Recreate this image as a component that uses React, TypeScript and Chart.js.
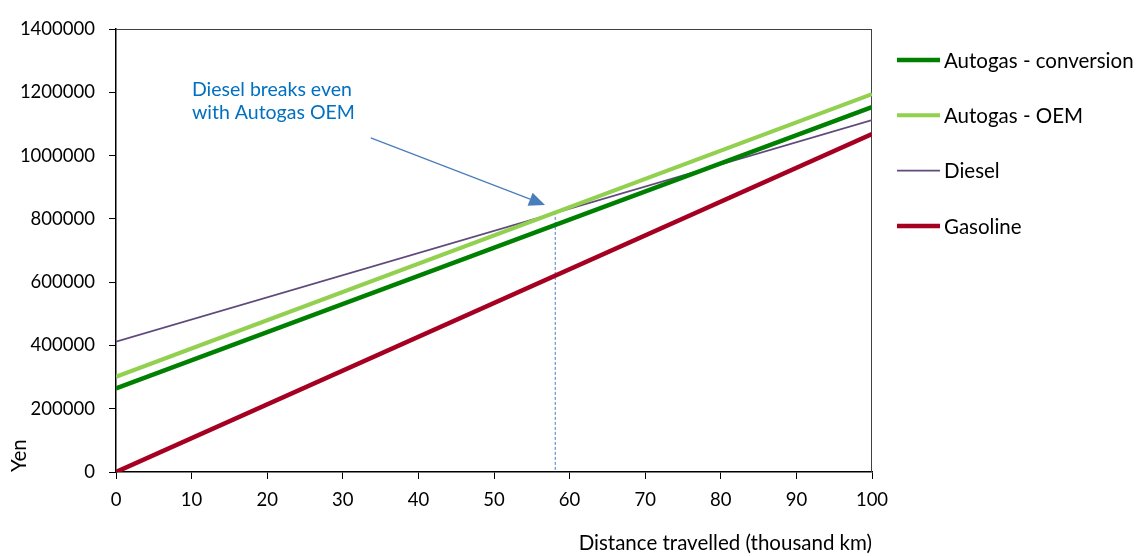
import React, { useEffect, useRef } from "react";
import { Chart, registerables } from "chart.js";

Chart.register(...registerables);

// ---- data ----
const distance = [0, 100]; // thousand km
const autogasConversion = [264000, 1153000];
const autogasOEM = [301000, 1194000];
const diesel = [412000, 1112000];
const gasoline = [0, 1068000];

const seriesNames = ["Autogas - conversion", "Autogas - OEM", "Diesel", "Gasoline"];
const seriesColors = ["#008000", "#92D050", "#604A7B", "#A50021"];
const seriesWidths = [4.5, 4, 1.8, 4.5];

const yTicks = [0, 200000, 400000, 600000, 800000, 1000000, 1200000, 1400000];
const xTicks = [0, 10, 20, 30, 40, 50, 60, 70, 80, 90, 100];

// annotation (data units)
const noteLines = ["Diesel breaks even", "with Autogas OEM"];
const notePos = [{ x: 10.05, y: 1209000 }, { x: 10.05, y: 1134000 }];
const arrowFrom = { x: 33.7, y: 1056000 };
const arrowTo = { x: 56.75, y: 844000 };
const breakEven = { x: 58.1, y: 822000 };

const FONT = "Lato, 'Open Sans', sans-serif";
const FS_TICK = 18.5;
const FS_TEXT = 20.5;
const FS_NOTE = 19.5;

export default function App() {
  const ref = useRef<HTMLCanvasElement>(null);

  useEffect(() => {
    document.body.style.margin = "0";
    const canvas = ref.current!;
    const seriesData = [autogasConversion, autogasOEM, diesel, gasoline];

    const frame = {
      id: "frame",
      beforeDatasetsDraw(chart: any) {
        const { ctx, chartArea: a } = chart;
        ctx.save();
        ctx.strokeStyle = "#404040";
        ctx.lineWidth = 1;
        ctx.beginPath();
        ctx.moveTo(a.left, a.top + 0.5);
        ctx.lineTo(a.right, a.top + 0.5);
        ctx.moveTo(a.right - 0.5, a.top);
        ctx.lineTo(a.right - 0.5, a.bottom);
        ctx.stroke();
        // break-even dashed line
        const xs = chart.scales.x, ys = chart.scales.y;
        const bx = xs.getPixelForValue(breakEven.x);
        ctx.strokeStyle = "#4A7EBB";
        ctx.setLineDash([3, 2]);
        ctx.beginPath();
        ctx.moveTo(bx, ys.getPixelForValue(breakEven.y));
        ctx.lineTo(bx, ys.getPixelForValue(0));
        ctx.stroke();
        ctx.restore();
      },
    };

    const overlay = {
      id: "overlay",
      afterDraw(chart: any) {
        const { ctx } = chart;
        const xs = chart.scales.x, ys = chart.scales.y;
        ctx.save();
        // note text
        ctx.font = `${FS_NOTE}px ${FONT}`;
        ctx.fillStyle = "#0070C0";
        ctx.textAlign = "left";
        ctx.textBaseline = "middle";
        noteLines.forEach((t, i) => {
          ctx.fillText(t, xs.getPixelForValue(notePos[i].x), ys.getPixelForValue(notePos[i].y));
        });
        // arrow
        const x1 = xs.getPixelForValue(arrowFrom.x), y1 = ys.getPixelForValue(arrowFrom.y);
        const x2 = xs.getPixelForValue(arrowTo.x), y2 = ys.getPixelForValue(arrowTo.y);
        const ang = Math.atan2(y2 - y1, x2 - x1);
        const hl = 16, hw = 7;
        const bxp = x2 - hl * Math.cos(ang), byp = y2 - hl * Math.sin(ang);
        ctx.strokeStyle = "#4A7EBB";
        ctx.fillStyle = "#4A7EBB";
        ctx.lineWidth = 1.3;
        ctx.beginPath();
        ctx.moveTo(x1, y1);
        ctx.lineTo(bxp, byp);
        ctx.stroke();
        ctx.beginPath();
        ctx.moveTo(x2, y2);
        ctx.lineTo(bxp + hw * Math.sin(ang), byp - hw * Math.cos(ang));
        ctx.lineTo(bxp - hw * Math.sin(ang), byp + hw * Math.cos(ang));
        ctx.closePath();
        ctx.fill();
        // legend
        const lx0 = 897, lx1 = 940, tx = 944, ly0 = 60, dy = 55.3;
        chart.data.datasets.forEach((ds: any, i: number) => {
          const y = ly0 + i * dy;
          ctx.strokeStyle = ds.borderColor;
          ctx.lineWidth = ds.borderWidth;
          ctx.beginPath();
          ctx.moveTo(lx0, y);
          ctx.lineTo(lx1, y);
          ctx.stroke();
          ctx.fillStyle = "#000";
          ctx.font = `${FS_TEXT}px ${FONT}`;
          ctx.textAlign = "left";
          ctx.textBaseline = "middle";
          ctx.fillText(ds.label, tx, y + 1);
        });
        ctx.restore();
      },
    };

    const chart = new Chart(canvas, {
      type: "line",
      data: {
        datasets: seriesNames.map((name, i) => ({
          label: name,
          data: distance.map((d, j) => ({ x: d, y: seriesData[i][j] })),
          borderColor: seriesColors[i],
          backgroundColor: seriesColors[i],
          borderWidth: seriesWidths[i],
          pointRadius: 0,
          tension: 0,
          fill: false,
        })),
      },
      options: {
        responsive: false,
        animation: false,
        devicePixelRatio: 1,
        layout: { padding: { left: 0, right: 267, top: 29, bottom: 0 } },
        plugins: { legend: { display: false }, tooltip: { enabled: false } },
        scales: {
          x: {
            type: "linear",
            min: 0,
            max: 100,
            afterFit(s: any) { s.height = 84; },
            afterBuildTicks(s: any) { s.ticks = xTicks.map((v) => ({ value: v })); },
            grid: { drawOnChartArea: false, drawTicks: true, tickLength: 7, color: "#000", tickColor: "#000" },
            border: { display: true, color: "#000", width: 1.5 },
            ticks: { color: "#000", font: { family: FONT, size: FS_TICK }, padding: 10, maxRotation: 0 },
            title: {
              display: true,
              text: "Distance travelled (thousand km)",
              align: "end",
              color: "#000",
              font: { family: FONT, size: FS_TEXT },
              padding: { top: 0, bottom: 0 },
            },
          },
          y: {
            min: 0,
            max: 1400000,
            afterFit(s: any) { s.width = 116; },
            afterBuildTicks(s: any) { s.ticks = yTicks.map((v) => ({ value: v })); },
            grid: { drawOnChartArea: false, drawTicks: true, tickLength: 7, color: "#000", tickColor: "#000" },
            border: { display: true, color: "#000", width: 1.5 },
            ticks: { color: "#000", font: { family: FONT, size: FS_TICK }, padding: 14, callback: (v: any) => String(v) },
            title: {
              display: true,
              text: "Yen",
              align: "start",
              color: "#000",
              font: { family: FONT, size: FS_TEXT },
              padding: { top: 7, bottom: 0 },
            },
          },
        },
      },
      plugins: [frame, overlay],
    });
    return () => chart.destroy();
  }, []);

  return (
    <div style={{ width: 1139, height: 556, background: "#fff" }}>
      <canvas ref={ref} width={1139} height={556} />
    </div>
  );
}
